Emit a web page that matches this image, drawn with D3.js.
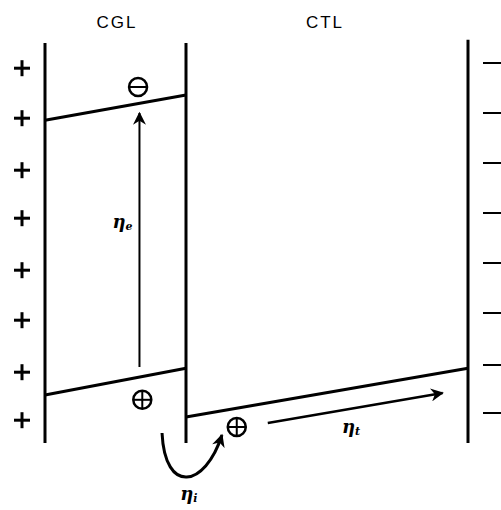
<!DOCTYPE html>
<html><head><meta charset="utf-8">
<script src="https://cdn.jsdelivr.net/npm/d3@7"></script>
<style>body{margin:0;background:#fff}svg{display:block}</style>
</head><body>
<svg id="c" width="501" height="510"></svg>
<script>
// Layers (x in relative thickness units)
const layers = [{name:"CGL", x0:0, x1:1}, {name:"CTL", x0:1, x1:3}];
const boundaries = [0, 1, 3];
// boundary top (energy units)
const boundaryTop = [10, 10, 10.08];
// Energy levels (x, energy)
const cglUpper = [[0, 8.07], [1, 8.7]];
const cglLower = [[0, 1.2], [1, 1.87]];
const ctlLevel = [[1, 0.65], [3, 1.87]];
// Electrode charges
const plusCharges = [9.37, 8.12, 6.82, 5.62, 4.32, 3.07, 1.77, 0.57];
const minusCharges = [9.5, 8.25, 7.0, 5.75, 4.5, 3.25, 1.95, 0.75];
// Carriers
const carriers = [{sym:"−", x:0.66, e:8.9}, {sym:"+", x:0.69, e:1.08}, {sym:"+", x:1.36, e:0.4}];
// Arrows
const etaE = {x:0.67, e0:1.9, e1:8.25, label:"e", lx:0.55, le:5.37};
const etaT = {x0:1.58, e0:0.5, x1:2.82, e1:1.25, label:"t", lx:2.17, le:0.25};
// curved arrow: start, control 1, control 2, end
const etaI = {pts:[[0.83,0.25],[0.851,-1.3],[1.135,-1.12],[1.255,0.2]], label:"i", lx:1.02, le:-1.42};

const svg = d3.select("#c");
const x = d3.scaleLinear().domain([0, 3]).range([45, 468]);
const y = d3.scaleLinear().domain([0, 10]).range([443, 43]);

svg.append("defs").append("marker").attr("id","ah").attr("viewBox","0 0 10 10")
  .attr("refX",9).attr("refY",5).attr("markerWidth",14).attr("markerHeight",13)
  .attr("markerUnits","userSpaceOnUse").attr("orient","auto")
  .append("path").attr("d","M0,0 L10,5 L0,10 L3,5 Z").attr("fill","#000");

// layer labels
svg.selectAll("text.layer").data(layers).join("text").attr("class","layer")
  .attr("x", d => (x(d.x0)+x(d.x1))/2 + (d.name==="CGL"?1.5:-2))
  .attr("y", 28).attr("text-anchor","middle")
  .attr("font-family","Liberation Sans, Arial, sans-serif").attr("font-size",17)
  .attr("letter-spacing",2).text(d => d.name);

// boundaries
svg.selectAll("line.b").data(boundaries).join("line").attr("class","b")
  .attr("x1", d=>x(d)).attr("x2", d=>x(d))
  .attr("y1", (d,i)=>y(boundaryTop[i])).attr("y2", y(0))
  .attr("stroke","#000").attr("stroke-width",3);

// levels
const line = d3.line().x(d=>x(d[0])).y(d=>y(d[1]));
[cglUpper, cglLower, ctlLevel].forEach(l => {
  svg.append("path").attr("d", line(l)).attr("fill","none").attr("stroke","#000").attr("stroke-width",3);
});

// plus charges left electrode
const pg = svg.selectAll("g.p").data(plusCharges).join("g").attr("class","p")
  .attr("transform", d=>`translate(${x(0)-23},${y(d)})`);
pg.append("line").attr("x1",-8).attr("x2",8).attr("stroke","#000").attr("stroke-width",3);
pg.append("line").attr("y1",-8).attr("y2",8).attr("stroke","#000").attr("stroke-width",3);

// minus charges right electrode
svg.selectAll("line.m").data(minusCharges).join("line").attr("class","m")
  .attr("x1", x(3)+15).attr("x2", 501).attr("y1", d=>y(d)).attr("y2", d=>y(d))
  .attr("stroke","#000").attr("stroke-width",2);

// carriers
const cg = svg.selectAll("g.c").data(carriers).join("g").attr("class","c")
  .attr("transform", d=>`translate(${x(d.x)},${y(d.e)})`);
cg.append("circle").attr("r",9).attr("fill","none").attr("stroke","#000").attr("stroke-width",2.5);
cg.append("line").attr("x1",-9).attr("x2",9).attr("stroke","#000").attr("stroke-width",2);
cg.filter(d=>d.sym==="+").append("line").attr("y1",-9).attr("y2",9).attr("stroke","#000").attr("stroke-width",2);

// eta_e arrow
svg.append("line").attr("x1",x(etaE.x)).attr("x2",x(etaE.x)).attr("y1",y(etaE.e0)).attr("y2",y(etaE.e1))
  .attr("stroke","#000").attr("stroke-width",2).attr("marker-end","url(#ah)");
// eta_t arrow
svg.append("line").attr("x1",x(etaT.x0)).attr("x2",x(etaT.x1)).attr("y1",y(etaT.e0)).attr("y2",y(etaT.e1))
  .attr("stroke","#000").attr("stroke-width",2.5).attr("marker-end","url(#ah)");
// eta_i curved arrow (cubic Bezier through scaled control points)
const P = etaI.pts.map(p => [x(p[0]), y(p[1])]);
const cp = d3.path();
cp.moveTo(P[0][0], P[0][1]);
cp.bezierCurveTo(P[1][0], P[1][1], P[2][0], P[2][1], P[3][0], P[3][1]);
svg.append("path").attr("d", cp.toString())
  .attr("fill","none").attr("stroke","#000").attr("stroke-width",3).attr("marker-end","url(#ah)");

// labels
function eta(o){
  const t = svg.append("text").attr("x",x(o.lx)).attr("y",y(o.le)).attr("text-anchor","middle")
    .attr("font-family","DejaVu Serif, serif").attr("font-style","italic").attr("font-weight","bold").attr("font-size",18);
  t.append("tspan").text("η");
  t.append("tspan").attr("dy",2).attr("font-size",11).text(o.label);
}
[etaE, etaT, etaI].forEach(eta);
</script>
</body></html>
